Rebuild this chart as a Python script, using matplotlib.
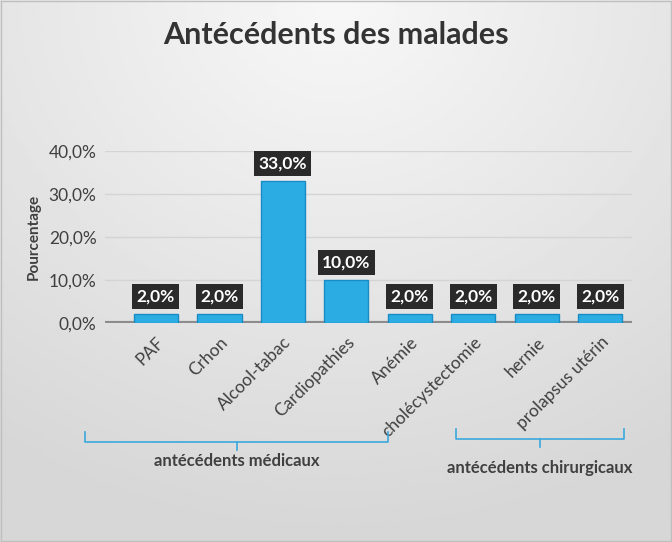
import numpy as np
import matplotlib
matplotlib.use('Agg')
import matplotlib.pyplot as plt
from matplotlib.ticker import FuncFormatter

categories = ['PAF', 'Crhon', 'Alcool-tabac', 'Cardiopathies', 'Anémie',
              'cholécystectomie', 'hernie', 'prolapsus utérin']
values = [2.0, 2.0, 33.0, 10.0, 2.0, 2.0, 2.0, 2.0]
groups = ['antécédents médicaux', 'antécédents chirurgicaux']

plt.rcParams['font.family'] = ['Lato', 'DejaVu Sans']

fig = plt.figure(figsize=(6.72, 5.42), dpi=100)

# background gradient
bg = fig.add_axes([0, 0, 1, 1], zorder=-10)
yy, xx = np.mgrid[0:1:200j, 0:1:200j]
r = np.sqrt(((xx - 0.5) * 1.1) ** 2 + (yy * 1.0) ** 2)
shade = 0.97 - 0.13 * np.clip(r, 0, 1)
bg.imshow(shade, cmap='gray', vmin=0, vmax=1, aspect='auto', extent=[0, 1, 1, 0])
bg.set_xlim(0, 1)
bg.set_ylim(1, 0)
bg.axis('off')
bg.plot([0.002, 0.998, 0.998, 0.002, 0.002], [0.002, 0.002, 0.998, 0.998, 0.002],
        color='#BFBFBF', lw=1)

ax = fig.add_axes([105 / 672, 1 - 323 / 542, 527 / 672, 172 / 542])
ax.patch.set_alpha(0)
x = np.arange(len(categories))
ax.bar(x, values, width=0.7, color='#2BACE2', edgecolor='#1A8CC4', linewidth=1, zorder=3)
for xi, v in zip(x, values):
    ax.annotate(f'{v:.1f}%'.replace('.', ','), (xi, v), xytext=(0, 7), textcoords='offset points',
                ha='center', va='bottom', color='white', fontsize=12.5, fontweight='bold', zorder=5,
                bbox=dict(boxstyle='square,pad=0.25', fc='#2A2A2A', ec='none'))

ax.set_xlim(-0.8, 7.5)
ax.set_ylim(0, 40)
ax.set_yticks([0, 10, 20, 30, 40])
ax.yaxis.set_major_formatter(FuncFormatter(lambda v, p: f'{v:.1f}%'.replace('.', ',')))
ax.grid(axis='y', color='#D4D4D4', lw=1, zorder=0)
ax.axhline(0, color='#8C8C8C', lw=3, zorder=2)
for s in ax.spines.values():
    s.set_visible(False)
ax.tick_params(length=0, labelsize=12.5, labelcolor='#404040')
ax.set_xticks(x)
ax.set_xticklabels(categories, rotation=45, ha='right', va='top', rotation_mode='anchor',
                   fontsize=12.5, color='#404040')
ax.tick_params(axis='x', pad=8)
ax.tick_params(axis='y', pad=6)
ax.set_ylabel('Pourcentage', fontsize=11, fontweight='bold', color='#404040', labelpad=6)

fig.text(0.5, 1 - 35 / 542, 'Antécédents des malades', ha='center', va='center',
         fontsize=22, fontweight='bold', color='#333333')

# group brackets (figure pixel coords)
def bracket(x0, x1, y, label, ly):
    c = '#3BA8DC'
    xm = (x0 + x1) / 2
    fx = lambda v: v / 672
    fy = lambda v: 1 - v / 542
    fig.add_artist(plt.Line2D([fx(x0), fx(x0), fx(x1), fx(x1)], [fy(y - 10), fy(y), fy(y), fy(y - 10)],
                              color=c, lw=1.2))
    fig.add_artist(plt.Line2D([fx(xm), fx(xm)], [fy(y), fy(y + 8)], color=c, lw=1.2))
    fig.text(fx(xm), fy(ly), label, ha='center', va='center', fontsize=12,
             fontweight='bold', color='#404040')

bracket(85, 388, 442, groups[0], 461)
bracket(456, 624, 439, groups[1], 468)

fig.savefig('out.png', dpi=100)
